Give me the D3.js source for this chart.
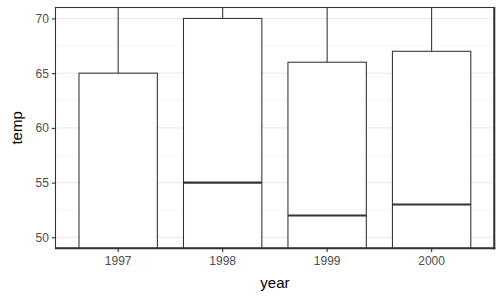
<!DOCTYPE html>
<html><head><meta charset="utf-8">
<script src="https://cdn.jsdelivr.net/npm/d3@7"></script>
<style>body{margin:0;background:#fff}svg{display:block}text{font-family:"Liberation Sans",Arial,sans-serif}</style>
</head><body>
<svg id="c" width="504" height="302"></svg>
<script>
const years = ["1997","1998","1999","2000"];
const lowerWhisker = [30, 35, 33, 34];
const q1 = [38, 45, 42, 43];
const median = [46, 55, 52, 53];
const q3 = [65, 70, 66, 67];
const upperWhisker = [85, 88, 86, 86];
const yTicks = [50, 55, 60, 65, 70];
const yMinor = [52.5, 57.5, 62.5, 67.5];

const svg = d3.select("#c");
const L = 55.5, R = 494.3, T = 7.5, B = 248.3;
const x = d3.scaleBand().domain(years).range([L, R]).paddingInner(0).paddingOuter(0.1);
const y = d3.scaleLinear().domain([49, 71]).range([B, T]);

svg.append("rect").attr("x", L).attr("y", T).attr("width", R - L).attr("height", B - T).attr("fill", "#fff");
svg.append("clipPath").attr("id", "clp").append("rect").attr("x", L).attr("y", T).attr("width", R - L).attr("height", B - T);

const grid = svg.append("g");
grid.selectAll(".mn").data(yMinor).enter().append("line")
  .attr("x1", L).attr("x2", R).attr("y1", d => y(d)).attr("y2", d => y(d))
  .attr("stroke", "#EBEBEB").attr("stroke-width", 0.55);
grid.selectAll(".mj").data(yTicks).enter().append("line")
  .attr("x1", L).attr("x2", R).attr("y1", d => y(d)).attr("y2", d => y(d))
  .attr("stroke", "#EBEBEB").attr("stroke-width", 1.1);

const bw = x.step() * 0.75;
const g = svg.append("g").attr("clip-path", "url(#clp)");
years.forEach((yr, i) => {
  const cx = x(yr) + x.bandwidth() / 2;
  g.append("line").attr("x1", cx).attr("x2", cx).attr("y1", y(q3[i])).attr("y2", y(upperWhisker[i]))
    .attr("stroke", "#333").attr("stroke-width", 1.07);
  g.append("line").attr("x1", cx).attr("x2", cx).attr("y1", y(q1[i])).attr("y2", y(lowerWhisker[i]))
    .attr("stroke", "#333").attr("stroke-width", 1.07);
  g.append("rect").attr("x", cx - bw / 2).attr("width", bw)
    .attr("y", y(q3[i])).attr("height", y(q1[i]) - y(q3[i]))
    .attr("fill", "#fff").attr("stroke", "#333").attr("stroke-width", 1.07);
  g.append("line").attr("x1", cx - bw / 2).attr("x2", cx + bw / 2).attr("y1", y(median[i])).attr("y2", y(median[i]))
    .attr("stroke", "#333").attr("stroke-width", 2.1);
});

// panel border
svg.append("rect").attr("x", L).attr("y", T).attr("width", R - L).attr("height", B - T)
  .attr("fill", "none").attr("stroke", "#333").attr("stroke-width", 1.1);
svg.append("line").attr("x1", R).attr("x2", R).attr("y1", T - 0.5).attr("y2", B + 1).attr("stroke", "#333").attr("stroke-width", 2);
svg.append("line").attr("x1", L - 0.5).attr("x2", R + 1).attr("y1", B).attr("y2", B).attr("stroke", "#333").attr("stroke-width", 2);

// axes
const ya = svg.append("g").attr("transform", `translate(${L},0)`)
  .call(d3.axisLeft(y).tickValues(yTicks).tickSize(3.7).tickPadding(3));
const xa = svg.append("g").attr("transform", `translate(0,${B})`)
  .call(d3.axisBottom(x).tickSize(3.7).tickPadding(3));
[ya, xa].forEach(a => {
  a.select(".domain").remove();
  a.selectAll(".tick line").attr("stroke", "#333").attr("stroke-width", 1.1);
  a.selectAll(".tick text").attr("fill", "#4D4D4D").style("font-size", "12px");
});
xa.selectAll(".tick text").attr("dy", "0.85em");

svg.append("text").attr("x", (L + R) / 2).attr("y", 288).attr("text-anchor", "middle")
  .style("font-size", "15px").attr("fill", "#000").text("year");
svg.append("text").attr("transform", `translate(22,${(T + B) / 2}) rotate(-90)`).attr("text-anchor", "middle")
  .style("font-size", "15px").attr("fill", "#000").text("temp");
</script>
</body></html>
